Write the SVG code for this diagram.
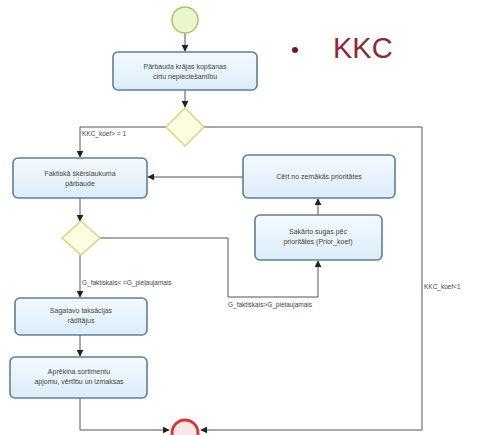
<svg xmlns="http://www.w3.org/2000/svg" width="478" height="435" viewBox="0 0 478 435">
<defs>
<marker id="ah" viewBox="0 0 10 10" refX="9" refY="5" markerWidth="7" markerHeight="7" orient="auto" markerUnits="userSpaceOnUse"><path d="M0,0 L10,5 L0,10 z" fill="#222"/></marker>
<linearGradient id="bg" x1="0" y1="0" x2="0" y2="1"><stop offset="0" stop-color="#f4fafe"/><stop offset="1" stop-color="#dcecf8"/></linearGradient>
</defs>
<style>
.box{fill:url(#bg);stroke:#5f7f95;stroke-width:1.6}
.t{font-family:"Liberation Sans",Arial,sans-serif;font-size:7px;fill:#444;text-anchor:middle}
.lbl{font-family:"Liberation Sans",Arial,sans-serif;font-size:6.5px;fill:#444}
.dia{fill:#fdfde2;stroke:#d4d48c;stroke-width:1.5}
.c{fill:none;stroke:#555;stroke-width:1}
</style>
<rect width="478" height="435" fill="#fff"/>
<g id="title">
<circle cx="295" cy="50" r="3" fill="#6a1a2a"/>
<text x="333" y="58" font-family="Liberation Sans,Arial,sans-serif" font-size="29" fill="#8a2a36">KKC</text>
</g>
<g id="connectors">
<path class="c" d="M185,33 V51" marker-end="url(#ah)"/>
<path class="c" d="M185,90 V107" marker-end="url(#ah)"/>
<path class="c" d="M167,127 H80 V157" marker-end="url(#ah)"/>
<path class="c" d="M203,127 H422 V430 H201" marker-end="url(#ah)"/>
<path class="c" d="M243,177 H148" marker-end="url(#ah)"/>
<path class="c" d="M318,215 V199" marker-end="url(#ah)"/>
<path class="c" d="M80,198 V221" marker-end="url(#ah)"/>
<path class="c" d="M100,238 H228 V297 H318 V261" marker-end="url(#ah)"/>
<path class="c" d="M80,255 V297" marker-end="url(#ah)"/>
<path class="c" d="M80,335 V356" marker-end="url(#ah)"/>
<path class="c" d="M80,398 V430 H169" marker-end="url(#ah)"/>
<text class="lbl" x="82" y="136">KKC_koef&gt; = 1</text>
<text class="lbl" x="82" y="285">G_faktiskais&lt; =G_pieļaujamais</text>
<text class="lbl" x="228" y="307">G_faktiskais&gt;G_pieļaujamais</text>
<text class="lbl" x="424" y="289">KKC_koef&lt;1</text>
</g>
<g id="start"><circle cx="185" cy="20" r="13" fill="#eaf7cc" stroke="#a6c66e" stroke-width="1.5"/></g>
<g id="n1"><rect class="box" x="113" y="52" width="144" height="38" rx="5"/><text class="t" x="185" y="69">Pārbauda krājas kopšanas</text><text class="t" x="185" y="79">cirtu nepieciešamību</text></g>
<g id="d1"><path class="dia" d="M185,108 L204,127 L185,146 L166,127 z"/></g>
<g id="n2"><rect class="box" x="13" y="158" width="134" height="40" rx="5"/><text class="t" x="80" y="176">Faktiskā šķērslaukuma</text><text class="t" x="80" y="186">pārbaude</text></g>
<g id="n3"><rect class="box" x="243" y="155" width="152" height="43" rx="5"/><text class="t" x="319" y="179">Cērt no zemākās prioritātes</text></g>
<g id="n4"><rect class="box" x="255" y="215" width="127" height="45" rx="5"/><text class="t" x="318" y="234">Sakārto sugas pēc</text><text class="t" x="318" y="244">prioritātes (Prior_koef)</text></g>
<g id="d2"><path class="dia" d="M81,221 L100,238 L81,255 L62,238 z"/></g>
<g id="n5"><rect class="box" x="15" y="298" width="132" height="37" rx="5"/><text class="t" x="81" y="313">Sagatavo taksācijas</text><text class="t" x="81" y="323">rādītājus</text></g>
<g id="n6"><rect class="box" x="10" y="357" width="137" height="41" rx="5"/><text class="t" x="79" y="374">Aprēķina sortimentu</text><text class="t" x="79" y="384">apjomu, vērtību un izmaksas</text></g>
<g id="end"><circle cx="185" cy="433" r="13" fill="#fde6e6" stroke="#d23a3a" stroke-width="3"/></g>
</svg>
